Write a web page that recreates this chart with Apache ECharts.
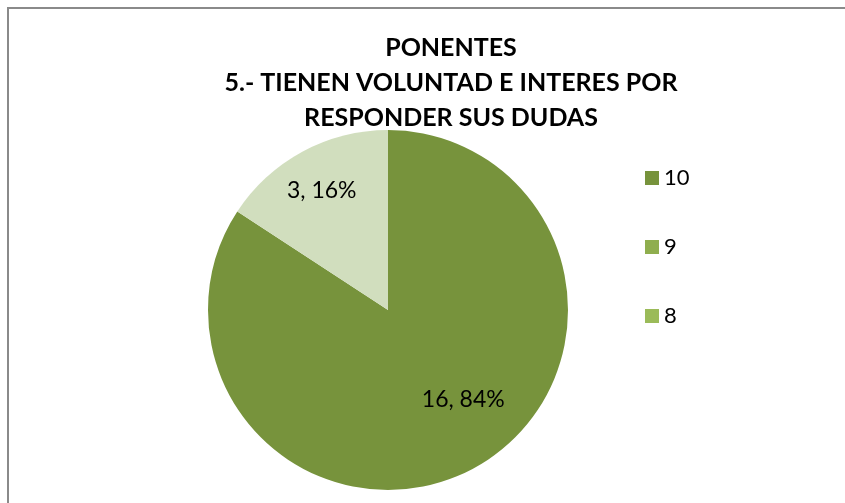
<!DOCTYPE html>
<html>
<head>
<meta charset="utf-8">
<script src="https://cdn.jsdelivr.net/npm/echarts@6/dist/echarts.min.js"></script>
<style>
  html, body { margin: 0; padding: 0; background: #fff; }
  #Chart { width: 845px; height: 503px; }
</style>
</head>
<body>
<div id="Chart"></div>
<script>
  // datos
  var categories = ['10', '9', '8']
  var values = [16, 0, 3]
  var titleLines = ['PONENTES', '5.- TIENEN VOLUNTAD E INTERES POR', 'RESPONDER SUS DUDAS']

  var sliceColors = ['#77933C', '#8FAE4E', '#D1DEBE']
  var legendColors = ['#77933C', '#8FAE4E', '#9BBB59']
  var labelShift = [[31, 8], [0, 0], [-22, -38]]

  var fontFamily = 'Lato, "Open Sans", sans-serif'
  var Chart = echarts.init(document.getElementById('Chart'))

  Chart.setOption({
    animation: false,
    backgroundColor: '#fff',
    title: {
      text: titleLines.join('\n'),
      left: 446,
      top: 25,
      textAlign: 'center',
      textStyle: {
        fontFamily: fontFamily,
        fontSize: 25,
        fontWeight: 'bold',
        color: '#000',
        lineHeight: 35
      }
    },
    graphic: [{
      type: 'rect',
      shape: { x: 8, y: 8, width: 900, height: 600 },
      style: { fill: 'none', stroke: '#8a8a8a', lineWidth: 2 },
      silent: true
    }],
    legend: {
      orient: 'vertical',
      left: 640,
      top: 162,
      itemWidth: 14,
      itemHeight: 14,
      itemGap: 47,
      icon: 'rect',
      textStyle: { fontFamily: fontFamily, fontSize: 22, color: '#000' },
      data: categories.map(function (c, i) {
        return { name: c, itemStyle: { color: legendColors[i] } }
      })
    },
    series: [{
      type: 'pie',
      center: [388, 310],
      radius: 180,
      startAngle: 90,
      clockwise: true,
      label: {
        show: true,
        position: 'inside',
        fontFamily: fontFamily,
        fontSize: 23,
        color: '#000',
        formatter: function (p) { return p.value + ', ' + Math.round(p.percent) + '%' }
      },
      labelLayout: function (p) {
        return { dx: labelShift[p.dataIndex][0], dy: labelShift[p.dataIndex][1] }
      },
      labelLine: { show: false },
      emphasis: { disabled: true },
      data: categories.map(function (c, i) {
        return {
          name: c,
          value: values[i],
          itemStyle: { color: sliceColors[i] },
          label: { show: values[i] > 0 }
        }
      })
    }]
  })
</script>
</body>
</html>
